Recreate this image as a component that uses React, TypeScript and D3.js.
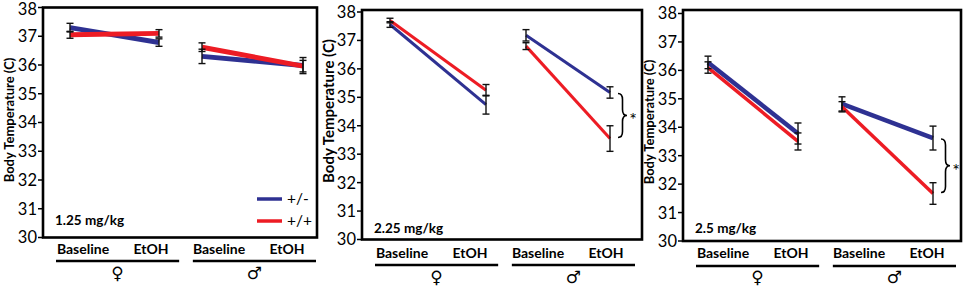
import React from "react";
import * as d3 from "d3";

// ---------- data ----------
const categories = ["Baseline", "EtOH", "Baseline", "EtOH"];
const sexes = ["♀", "♂"];
const seriesNames = ["+/-", "+/+"];
const doseLabels = ["1.25 mg/kg", "2.25 mg/kg", "2.5 mg/kg"];
const yTicks = [30, 31, 32, 33, 34, 35, 36, 37, 38];

const het125 = [37.3, 36.78, 36.3, 35.98];
const hetErr125 = [0.15, 0.13, 0.25, 0.28];
const wt125 = [37.05, 37.1, 36.62, 35.96];
const wtErr125 = [0.12, 0.13, 0.15, 0.2];

const het225 = [37.56, 34.74, 37.18, 35.17];
const hetErr225 = [0.1, 0.33, 0.2, 0.2];
const wt225 = [37.7, 35.25, 36.8, 33.55];
const wtErr225 = [0.08, 0.2, 0.12, 0.45];

const het25 = [36.28, 33.78, 34.82, 33.62];
const hetErr25 = [0.22, 0.37, 0.25, 0.42];
const wt25 = [36.1, 33.5, 34.72, 31.67];
const wtErr25 = [0.2, 0.3, 0.18, 0.38];

const significant = [false, true, true];

// ---------- layout / style ----------
const BLUE = "#2e3192";
const RED = "#ed1c24";
const FONT = "Lato, 'Open Sans', 'DejaVu Sans', sans-serif";

const layouts = [
  { left: 43, right: 317, top: 7.5, bottom: 237.5, yTop: 7.5, pointX: [27, 116, 159, 260], lw: [5, 5], titleX: 14, titleY: 120, titleSize: 13, labelY: 254, lineY: 261, symY: 273, doseY: 225, legend: true },
  { left: 362, right: 642, top: 10, bottom: 239.5, yTop: 12, pointX: [28, 124, 164, 248], lw: [3, 3], titleX: 334, titleY: 111, titleSize: 15, labelY: 258, lineY: 265, symY: 277, doseY: 233, legend: false },
  { left: 683, right: 961, top: 10, bottom: 241, yTop: 13.5, pointX: [25, 115, 159, 250], lw: [4.5, 3.5], titleX: 654, titleY: 122, titleSize: 13, labelY: 258, lineY: 266, symY: 277, doseY: 233, legend: false },
];

const panelData = [
  { het: het125, hetErr: hetErr125, wt: wt125, wtErr: wtErr125 },
  { het: het225, hetErr: hetErr225, wt: wt225, wtErr: wtErr225 },
  { het: het25, hetErr: hetErr25, wt: wt25, wtErr: wtErr25 },
];

function bracePath(x: number, y1: number, y2: number, w: number) {
  const ym = (y1 + y2) / 2;
  const r = Math.min(6, (y2 - y1) / 4);
  const h = w / 2;
  return `M${x},${y1} q${h},0 ${h},${r} L${x + h},${ym - r} q0,${r} ${h},${r} q-${h},0 -${h},${r} L${x + h},${y2 - r} q0,${r} -${h},${r}`;
}

function Panel({ idx }: { idx: number }) {
  const L = layouts[idx];
  const D = panelData[idx];
  const width = L.right - L.left;
  const y = d3.scaleLinear().domain([30, 38]).range([L.bottom, L.yTop]);
  const keys = categories.map((c, i) => `${i}`);
  const xData = d3.scaleOrdinal<string, number>().domain(keys).range(L.pointX.map((p) => L.left + p));
  const xLabel = d3.scalePoint<string>().domain(keys).range([L.left + 40, L.left + 244]);
  const xSex = d3.scaleBand<string>().domain(sexes).range([L.left + 13, L.left + 273]).paddingInner(0.1);
  const line = d3.line<[number, number]>().x((d) => d[0]).y((d) => d[1]);

  const series = [
    { vals: D.het, errs: D.hetErr, color: BLUE, lw: L.lw[0] },
    { vals: D.wt, errs: D.wtErr, color: RED, lw: L.lw[1] },
  ];

  return (
    <g>
      {series.map((s, si) =>
        [0, 1].map((g) => {
          const pts: [number, number][] = [0, 1].map((k) => {
            const i = g * 2 + k;
            return [xData(`${i}`), y(s.vals[i])];
          });
          return <path key={`l${si}${g}`} d={line(pts) || ""} stroke={s.color} strokeWidth={s.lw} fill="none" />;
        })
      )}
      {series.map((s, si) =>
        s.vals.map((v, i) => {
          const cx = xData(`${i}`);
          const y1 = y(v + s.errs[i]);
          const y2 = y(v - s.errs[i]);
          return (
            <g key={`e${si}${i}`} stroke="#111" strokeWidth={1.4}>
              <line x1={cx} x2={cx} y1={y1} y2={y2} />
              <line x1={cx - 3.5} x2={cx + 3.5} y1={y1} y2={y1} />
              <line x1={cx - 3.5} x2={cx + 3.5} y1={y2} y2={y2} />
            </g>
          );
        })
      )}
      <rect x={L.left} y={L.top} width={width} height={L.bottom - L.top} fill="none" stroke="#000" strokeWidth={2.6} />
      {yTicks.map((t) => (
        <g key={t}>
          <line x1={L.left - 5} x2={L.left} y1={y(t)} y2={y(t)} stroke="#000" strokeWidth={1.5} />
          <text x={L.left - 6} y={Math.max(y(t), 9.5)} dy="0.36em" textAnchor="end" fontSize={16.5} fontFamily={FONT} fill="#000">
            {t}
          </text>
        </g>
      ))}
      <text
        transform={`translate(${L.titleX},${L.titleY}) rotate(-90)`}
        textAnchor="middle"
        fontSize={L.titleSize}
        fontWeight="bold"
        fontFamily={FONT}
        fill="#000"
      >
        Body Temperature (C)
      </text>
      {categories.map((c, i) => (
        <text key={`c${i}`} x={xLabel(`${i}`)} y={L.labelY} textAnchor="middle" fontSize={14} fontWeight="bold" fontFamily={FONT} fill="#000">
          {c}
        </text>
      ))}
      {sexes.map((s) => (
        <g key={s}>
          <line x1={xSex(s)} x2={(xSex(s) as number) + xSex.bandwidth()} y1={L.lineY} y2={L.lineY} stroke="#000" strokeWidth={2.5} />
          <text x={(xSex(s) as number) + xSex.bandwidth() / 2} y={L.symY} dy="0.35em" textAnchor="middle" fontSize={17} fontFamily="'DejaVu Sans', sans-serif" fill="#000">
            {s}
          </text>
        </g>
      ))}
      <text x={L.left + 12} y={L.doseY} fontSize={13.5} fontWeight="bold" fontFamily={FONT} fill="#000">
        {doseLabels[idx]}
      </text>
      {L.legend &&
        seriesNames.map((n, i) => (
          <g key={n}>
            <line x1={L.left + 214} x2={L.left + 239} y1={199 + i * 22} y2={199 + i * 22} stroke={i === 0 ? BLUE : RED} strokeWidth={3.5} />
            <text x={L.left + 244} y={199 + i * 22} dy="0.35em" fontSize={15.5} fontFamily={FONT} fill="#000">
              {n}
            </text>
          </g>
        ))}
      {significant[idx] && (() => {
        const cx = xData("3") + 8;
        const y1 = y(D.het[3]) + 1;
        const y2 = y(D.wt[3]) - 1;
        return (
          <g>
            <path d={bracePath(cx, y1, y2, 9)} fill="none" stroke="#000" strokeWidth={1.6} />
            <text x={cx + 15} y={(y1 + y2) / 2} dy="0.6em" fontSize={18} fontFamily={FONT} textAnchor="middle" fill="#000">
              *
            </text>
          </g>
        );
      })()}
    </g>
  );
}

export default function App() {
  return (
    <svg width={964} height={289} style={{ position: "absolute", left: 0, top: 0, background: "#fff" }}>
      <rect width={964} height={289} fill="#fff" />
      {layouts.map((_, i) => (
        <Panel key={i} idx={i} />
      ))}
    </svg>
  );
}
